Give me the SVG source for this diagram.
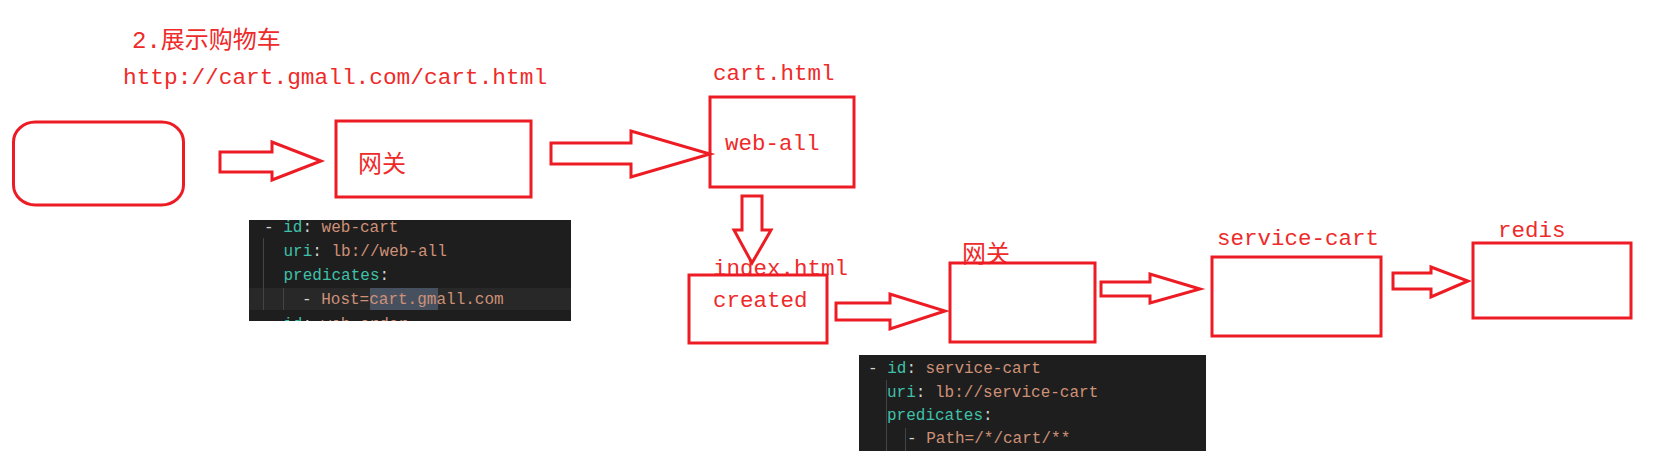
<svg xmlns="http://www.w3.org/2000/svg" width="1657" height="459" viewBox="0 0 1657 459">
<style>
.box{fill:none;stroke:#ed1c24;stroke-width:3}
.arr{fill:#fff;stroke:#ed1c24;stroke-width:3;stroke-linejoin:miter}
.lbl{font-family:"Liberation Mono","Noto Sans CJK SC",monospace;fill:#ee2a2a;font-size:22.5px}
.cn{font-family:"Noto Sans CJK SC",sans-serif;fill:#ee2a2a;font-size:24px}
.code{font-family:"Liberation Mono",monospace;fill:#ce9178;font-size:16px}
.k{fill:#3fc1a8}
.p{fill:#d4d4d4}
.guide{stroke:#444;stroke-width:1}
</style>
<defs>
<clipPath id="c1"><rect x="249" y="220" width="322" height="101"/></clipPath>
</defs>
<rect width="1657" height="459" fill="#fff"/>
<g id="title">
<text class="cn" x="132" y="48"><tspan style="font-family:'Liberation Mono',monospace">2.</tspan>展示购物车</text>
<text class="lbl" x="123" y="84" style="font-size:22.8px">http://cart.gmall.com/cart.html</text>
</g>
<g id="client"><rect class="box" x="13.5" y="122" width="170" height="83" rx="22" ry="20"/></g>
<g id="gateway1"><rect class="box" x="336" y="121" width="195" height="76"/><text class="cn" x="358" y="172">网关</text></g>
<g id="webcart-config">
<rect x="249" y="220" width="322" height="101" fill="#1e1e1e"/>
<g clip-path="url(#c1)">
<rect x="249" y="288" width="322" height="22" fill="#282828"/>
<rect x="370" y="288" width="68" height="22" fill="#46505e"/>
<line class="guide" x1="263.5" y1="238" x2="263.5" y2="310"/>
<line class="guide" x1="283.5" y1="288" x2="283.5" y2="310"/>
<g class="code">
<text x="264" y="232"><tspan class="p">- </tspan><tspan class="k">id</tspan><tspan class="p">: </tspan>web-cart</text>
<text x="283.5" y="256"><tspan class="k">uri</tspan><tspan class="p">: </tspan>lb://web-all</text>
<text x="283.5" y="280"><tspan class="k">predicates</tspan><tspan class="p">:</tspan></text>
<text x="302" y="304"><tspan class="p">- </tspan>Host=cart.gmall.com</text>
<text x="264" y="329"><tspan class="p">- </tspan><tspan class="k">id</tspan><tspan class="p">: </tspan>web-order</text>
</g>
</g>
</g>
<g id="weball">
<text class="lbl" x="713" y="80">cart.html</text>
<rect class="box" x="710" y="97" width="144" height="90"/>
<text class="lbl" x="725" y="150">web-all</text>
</g>
<g id="created">
<text class="lbl" x="713" y="275">index.html</text>
<rect class="box" x="689" y="275" width="138" height="68"/>
<text class="lbl" x="713" y="307">created</text>
</g>
<g id="gateway2">
<text class="cn" x="962" y="262">网关</text>
<rect class="box" x="950" y="263" width="145" height="79"/>
</g>
<g id="servicecart-config">
<rect x="859" y="355" width="347" height="96" fill="#1e1e1e"/>
<line class="guide" x1="886.5" y1="380" x2="886.5" y2="451"/>
<line class="guide" x1="905.5" y1="428" x2="905.5" y2="451"/>
<g class="code">
<text x="868" y="373"><tspan class="p">- </tspan><tspan class="k">id</tspan><tspan class="p">: </tspan>service-cart</text>
<text x="887" y="397"><tspan class="k">uri</tspan><tspan class="p">: </tspan>lb://service-cart</text>
<text x="887" y="420"><tspan class="k">predicates</tspan><tspan class="p">:</tspan></text>
<text x="907" y="443"><tspan class="p">- </tspan>Path=/*/cart/**</text>
</g>
</g>
<g id="servicecart">
<text class="lbl" x="1217" y="245">service-cart</text>
<rect class="box" x="1212" y="257" width="169" height="79"/>
</g>
<g id="redis">
<text class="lbl" x="1498" y="237">redis</text>
<rect class="box" x="1473" y="243" width="158" height="75"/>
</g>
<g id="connectors">
<polygon class="arr" points="220,152 272,152 272,142 321,161 272,180 272,172 220,172"/>
<polygon class="arr" points="551,143 631,143 631,131 710,154 631,177 631,164 551,164"/>
<polygon class="arr" points="742,196 762,196 762,230 771,230 752,263 734,230 742,230"/>
<polygon class="arr" points="836,303 890,303 890,294 945,311 890,329 890,320 836,320"/>
<polygon class="arr" points="1101,282 1150,282 1150,274 1200,289 1150,303 1150,296 1101,296"/>
<polygon class="arr" points="1393,273 1431,273 1431,267 1468,281 1431,297 1431,289 1393,289"/>
</g>
</svg>
